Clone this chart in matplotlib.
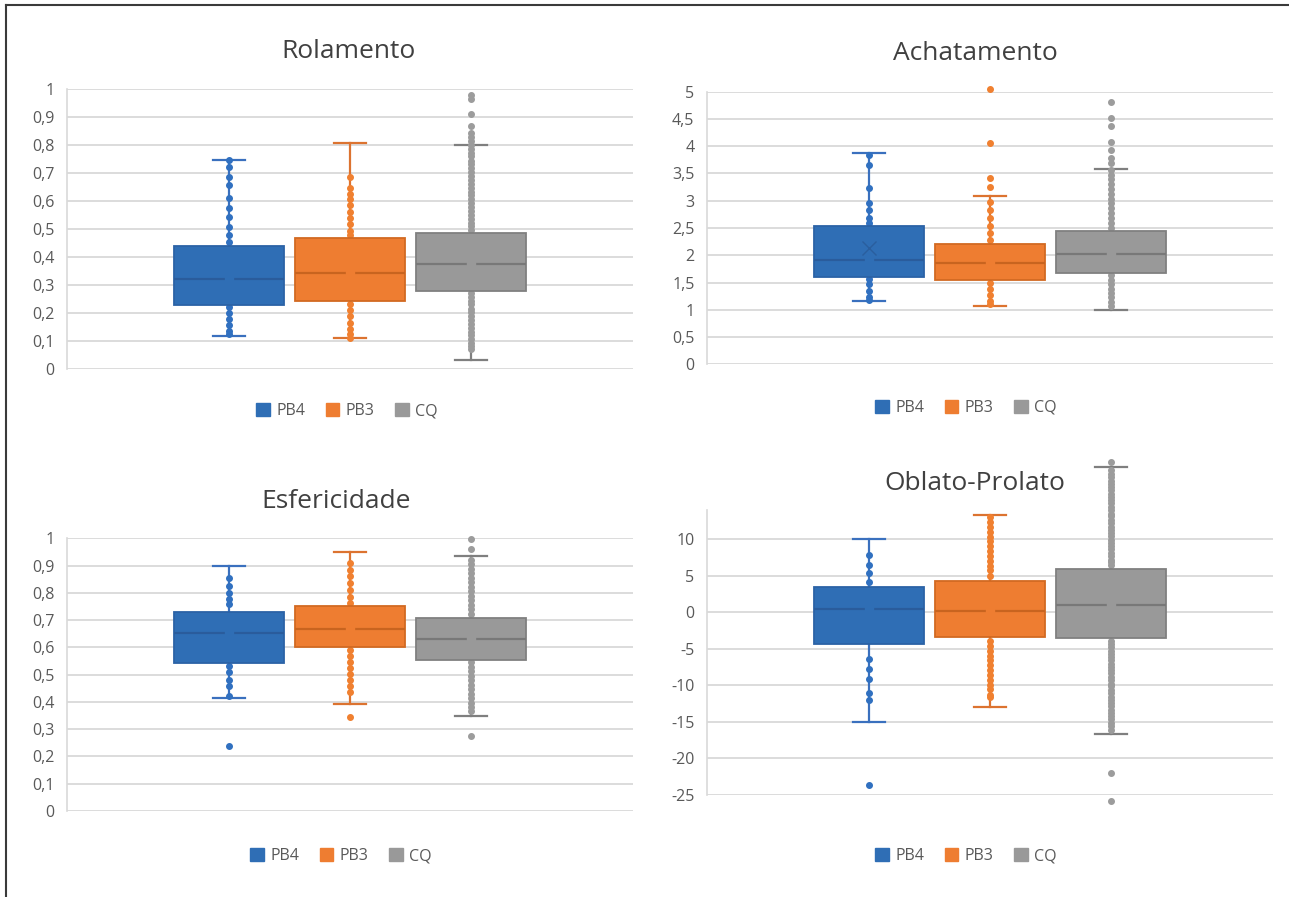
import matplotlib
matplotlib.use("Agg")
import matplotlib.pyplot as plt
from matplotlib.patches import Patch
from matplotlib.lines import Line2D

W, H = 1289, 897
plt.rcParams['font.family'] = ['Open Sans', 'DejaVu Sans']

series = ["PB4", "PB3", "CQ"]
titles = ["Rolamento", "Achatamento", "Esfericidade", "Oblato-Prolato"]

# ---- box statistics (whislo, q1, median, q3, whishi) per series ----
rol_stats = [(0.117, 0.227, 0.321, 0.440, 0.748),
             (0.109, 0.242, 0.341, 0.469, 0.807),
             (0.030, 0.277, 0.376, 0.487, 0.800)]
ach_stats = [(1.17, 1.61, 1.91, 2.54, 3.88),
             (1.07, 1.55, 1.86, 2.20, 3.09),
             (1.00, 1.68, 2.02, 2.45, 3.59)]
esf_stats = [(0.413, 0.542, 0.653, 0.729, 0.900),
             (0.393, 0.600, 0.669, 0.750, 0.949),
             (0.349, 0.554, 0.632, 0.709, 0.935)]
obl_stats = [(-15.07, -4.43, 0.37, 3.38, 10.05),
             (-13.06, -3.42, 0.09, 4.29, 13.33),
             (-16.67, -3.56, 0.91, 5.84, 19.86)]

# mean markers that are visible (None = not shown)
ach_means = [2.14, None, None]

# ---- individual points visible outside the boxes ----
rol_points = [
    [0.748, 0.722, 0.687, 0.659, 0.610, 0.574, 0.544, 0.507, 0.479, 0.452,
     0.222, 0.200, 0.178, 0.155, 0.135, 0.123],
    [0.686, 0.647, 0.626, 0.606, 0.585, 0.562, 0.541, 0.517, 0.493, 0.477,
     0.230, 0.209, 0.189, 0.165, 0.143, 0.123, 0.109],
    [0.980, 0.964, 0.913, 0.869, 0.845, 0.829, 0.815,
     0.800, 0.787, 0.772, 0.761, 0.745, 0.731, 0.718, 0.704, 0.690, 0.677,
     0.662, 0.648, 0.633, 0.621, 0.606, 0.592, 0.579, 0.564, 0.551, 0.537,
     0.522, 0.509, 0.496,
     0.270, 0.256, 0.243, 0.230, 0.215, 0.202, 0.188, 0.175, 0.160, 0.147,
     0.133, 0.119, 0.106, 0.093, 0.080, 0.069],
]
ach_points = [
    [3.84, 3.66, 3.23, 2.95, 2.83, 2.68, 2.59,
     1.56, 1.47, 1.35, 1.23, 1.18],
    [5.05, 4.05, 3.42, 3.25, 2.97, 2.83, 2.69, 2.54, 2.40, 2.28,
     1.50, 1.39, 1.27, 1.16, 1.10],
    [4.81, 4.51, 4.37, 4.08, 3.93, 3.79, 3.69,
     3.57, 3.48, 3.40, 3.31, 3.22, 3.13, 3.04, 2.95, 2.86, 2.77, 2.68, 2.59, 2.50,
     1.63, 1.55, 1.47, 1.39, 1.31, 1.23, 1.15, 1.07],
]
esf_points = [
    [0.853, 0.825, 0.800, 0.777, 0.760,
     0.532, 0.508, 0.481, 0.457, 0.420, 0.239],
    [0.908, 0.884, 0.860, 0.835, 0.811, 0.786, 0.764,
     0.591, 0.569, 0.548, 0.524, 0.503, 0.481, 0.459, 0.435, 0.345],
    [0.998, 0.960,
     0.922, 0.905, 0.889, 0.872, 0.856, 0.839, 0.823, 0.806, 0.790, 0.773,
     0.757, 0.740, 0.724,
     0.545, 0.529, 0.512, 0.496, 0.479, 0.463, 0.446, 0.430, 0.413, 0.397,
     0.381, 0.365, 0.276],
]
obl_points = [
    [7.76, 6.39, 5.39, 4.11,
     -6.39, -7.76, -9.13, -11.05, -12.0, -23.7],
    [13.0, 12.3, 11.7, 11.0, 10.3, 9.7, 9.0, 8.3, 7.7, 7.0, 6.3, 5.7, 5.0,
     -3.9, -4.6, -5.3, -6.0, -6.6, -7.3, -8.0, -8.6, -9.3, -10.0, -10.6,
     -11.3, -11.6],
    [20.6, 19.4, 18.9, 18.5, 18.0, 17.6, 17.1, 16.7, 16.2, 15.8, 15.3, 14.9,
     14.4, 14.0, 13.5, 13.1, 12.6, 12.2, 11.7, 11.3, 10.8, 10.4, 9.9, 9.5,
     9.0, 8.6, 8.1, 7.7, 7.2, 6.8, 6.4,
     -3.9, -4.4, -4.8, -5.3, -5.7, -6.2, -6.6, -7.1, -7.5, -8.0, -8.4, -8.9,
     -9.3, -9.8, -10.2, -10.7, -11.1, -11.6, -12.0, -12.5, -12.9, -13.4,
     -13.8, -14.3, -14.7, -15.2, -15.6, -16.2, -22.0, -25.9],
]

# ---- y ticks ----
rol_ticks = [0, 0.1, 0.2, 0.3, 0.4, 0.5, 0.6, 0.7, 0.8, 0.9, 1]
rol_labels = ["0", "0,1", "0,2", "0,3", "0,4", "0,5", "0,6", "0,7", "0,8", "0,9", "1"]
ach_ticks = [0, 0.5, 1, 1.5, 2, 2.5, 3, 3.5, 4, 4.5, 5]
ach_labels = ["0", "0,5", "1", "1,5", "2", "2,5", "3", "3,5", "4", "4,5", "5"]
esf_ticks = rol_ticks
esf_labels = rol_labels
obl_ticks = [-25, -20, -15, -10, -5, 0, 5, 10]
obl_labels = ["-25", "-20", "-15", "-10", "-5", "0", "5", "10"]

ylims = [(0, 1), (0, 5), (0, 1), (-25, 14)]

# ---- styling ----
fills = ["#2F6EB5", "#EE7D31", "#999999"]
edges = ["#2B62A6", "#D26A22", "#808080"]
medc = ["#2A5C9C", "#C8641F", "#787878"]
whc = ["#3A70BE", "#DC7330", "#7F7F7F"]
ptc = ["#3070C0", "#F08030", "#9C9C9C"]

fig = plt.figure(figsize=(W / 100, H / 100), dpi=100)
fig.patch.set_facecolor("white")

# axes rectangles in pixels: left, top, right, bottom
rects = [(67, 89.3, 633, 368.7), (707, 91.7, 1273, 364.3),
         (67, 538.3, 633, 811.0), (707, 509.9, 1273, 794.5)]
title_pos = [(348, 52), (975, 54), (336, 501), (975, 483)]
legend_pos = [(347, 411), (966, 408), (341, 856), (966, 856)]

all_stats = [rol_stats, ach_stats, esf_stats, obl_stats]
all_points = [rol_points, ach_points, esf_points, obl_points]
all_means = [[None] * 3, ach_means, [None] * 3, [None] * 3]
all_ticks = [(rol_ticks, rol_labels), (ach_ticks, ach_labels),
             (esf_ticks, esf_labels), (obl_ticks, obl_labels)]

positions = [-1, 0, 1]
for i in range(4):
    l, t, r, b = rects[i]
    ax = fig.add_axes([l / W, 1 - b / H, (r - l) / W, (b - t) / H])
    ax.set_xlim(-2.34, 2.34)
    ax.set_ylim(*ylims[i])
    ticks, labels = all_ticks[i]
    ax.set_yticks(ticks)
    ax.set_yticklabels(labels)
    ax.set_xticks([])
    ax.tick_params(axis='y', length=0, pad=9, labelsize=11.5, labelcolor="#595959")
    for s in ["top", "right", "bottom"]:
        ax.spines[s].set_visible(False)
    ax.spines["left"].set_color("#D9D9D9")
    ax.spines["left"].set_linewidth(1.2)
    ax.yaxis.grid(True, color="#D9D9D9", linewidth=1.3)
    ax.set_axisbelow(True)

    stats = []
    for (lo, q1, med, q3, hi) in all_stats[i]:
        stats.append(dict(whislo=lo, q1=q1, med=med, q3=q3, whishi=hi))
    bp = ax.bxp(stats, positions=positions, widths=0.91, capwidths=0.27,
                patch_artist=True, showfliers=False, manage_ticks=False)
    for k in range(3):
        box = bp['boxes'][k]
        box.set_facecolor(fills[k])
        box.set_edgecolor(edges[k])
        box.set_linewidth(1.3)
        box.set_zorder(3)
        bp['medians'][k].set_color(medc[k])
        bp['medians'][k].set_linewidth(1.6)
        bp['medians'][k].set_zorder(3.5)
        for w in bp['whiskers'][2 * k:2 * k + 2] + bp['caps'][2 * k:2 * k + 2]:
            w.set_color(whc[k])
            w.set_linewidth(1.6)
            w.set_zorder(2)
            w.set_clip_on(False)
        vals = all_points[i][k]
        ax.plot([positions[k]] * len(vals), vals, 'o', ms=4.0, color=ptc[k],
                mec=ptc[k], zorder=2.5, clip_on=False)
        # gap in the median line at the centre
        ax.plot([positions[k]], [all_stats[i][k][2]], 's', ms=5.5, color=fills[k],
                mec=fills[k], zorder=3.6)
        m = all_means[i][k]
        if m is not None:
            ax.plot([positions[k]], [m], 'x', ms=10, mew=1.0, color="#2A5E9E",
                    zorder=4)

    fig.text(title_pos[i][0] / W, 1 - title_pos[i][1] / H, titles[i],
             ha='center', va='center', fontsize=19, color="#404040")
    handles = [Patch(facecolor=fills[k], edgecolor=fills[k], label=series[k])
               for k in range(3)]
    fig.legend(handles=handles, loc='center', ncol=3, frameon=False,
               bbox_to_anchor=(legend_pos[i][0] / W, 1 - legend_pos[i][1] / H),
               fontsize=11.5, handlelength=0.85, handleheight=0.85,
               handletextpad=0.4, columnspacing=1.3, labelcolor="#595959")

# outer frame lines (top and left)
fig.add_artist(Line2D([6 / W, 1], [1 - 5 / H, 1 - 5 / H], color="#3A3A3A",
                      linewidth=1.5, transform=fig.transFigure))
fig.add_artist(Line2D([6 / W, 6 / W], [0, 1 - 5 / H], color="#3A3A3A",
                      linewidth=1.5, transform=fig.transFigure))

fig.savefig("out.png", dpi=100, facecolor="white")
